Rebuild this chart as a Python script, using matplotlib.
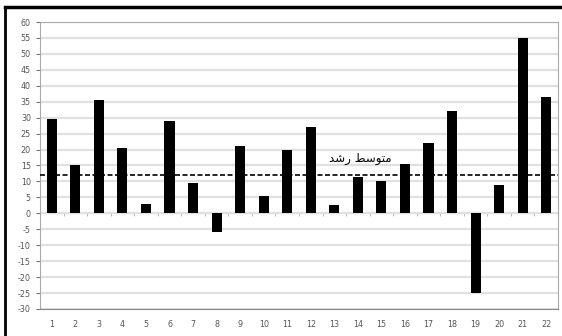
import matplotlib
matplotlib.use("Agg")
import matplotlib.pyplot as plt
from matplotlib.lines import Line2D

categories = [str(i) for i in range(1, 23)]
values = [29.5, 15, 35.5, 20.5, 3, 29, 9.5, -6, 21, 5.5, 20, 27, 2.5, 11.5,
          10, 15.5, 22, 32, -25, 9, 55, 36.5]
mean_value = 12
mean_label = "\uFEAA\uFEB7\uFEAD \uFEC2\uFEB3\uFEEE\uFE98\uFEE3"  # متوسط رشد (shaped)
y_ticks = list(range(-30, 61, 5))

fig = plt.figure(figsize=(5.62, 3.36), dpi=100)
ax = fig.add_axes([40/562, 1-309/336, (558-40)/562, (309-22)/336])

x = list(range(1, len(values) + 1))
ax.bar(x, values, width=0.43, color="black", zorder=3)
ax.axhline(mean_value, color="black", linestyle=(0, (3, 1.5)), linewidth=1.2, zorder=4)
ax.text(14.1, 17.3, mean_label, ha="center", va="center", fontsize=8.5,
        family=["DejaVu Sans"], color="black", zorder=5)

ax.set_xlim(0.5, 22.5)
ax.set_ylim(-30, 60)
ax.set_yticks(y_ticks)
ax.set_yticklabels([str(v) for v in y_ticks])
ax.set_xticks(x)
ax.set_xticklabels(categories)
ax.tick_params(axis="both", labelsize=5.8, colors="#555555", length=3, width=0.6)
ax.tick_params(axis="x", length=0, pad=8)
ax.yaxis.grid(True, color="#e0e0e0", linewidth=1.6, zorder=0)
ax.set_axisbelow(True)
for s in ["top", "right"]:
    ax.spines[s].set_color("#aaaaaa")
    ax.spines[s].set_linewidth(0.8)
ax.spines["left"].set_color("#aaaaaa")
ax.spines["bottom"].set_color("#888888")

# category axis crossing at zero
zero_frac = (0 - (-30)) / 90
sec = ax.secondary_xaxis(zero_frac)
sec.set_xticks([i + 0.5 for i in x[:-1]])
sec.set_xticklabels([])
sec.tick_params(length=2.5, color="#aaaaaa", width=0.6, direction="out")
sec.spines["bottom"].set_color("#bbbbbb")
sec.spines["bottom"].set_linewidth(0.8)

# outer frame
fig.add_artist(Line2D([5/562, 5/562], [0, 1-7/336], transform=fig.transFigure,
                      color="black", linewidth=2))
fig.add_artist(Line2D([5/562, 1], [1-7/336, 1-7/336], transform=fig.transFigure,
                      color="black", linewidth=2.5))

fig.savefig("out.png", dpi=100)
